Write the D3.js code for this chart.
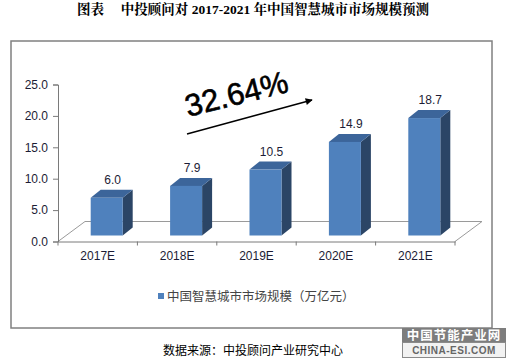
<!DOCTYPE html>
<html><head><meta charset="utf-8">
<script src="https://cdn.jsdelivr.net/npm/d3@7"></script>
<style>body{margin:0;background:#fff}svg{display:block}</style>
</head><body>
<svg id="c" width="506" height="360"></svg>
<script>
const categories = ["2017E","2018E","2019E","2020E","2021E"];
const values = [6.0, 7.9, 10.5, 14.9, 18.7];
const yTicks = [0, 5, 10, 15, 20, 25];
const seriesName = "中国智慧城市市场规模（万亿元）";
const growthLabel = "32.64%";
const titleText = "图表　 中投顾问对 2017-2021 年中国智慧城市市场规模预测";
const sourceText = "数据来源：中投顾问产业研究中心";

const svg = d3.select("#c");
const font = "Arial, 'Liberation Sans', 'Noto Sans CJK SC', sans-serif";
const labelColor = "#1c1c35";

// title
svg.append("text").attr("x", 253).attr("y", 14).attr("text-anchor", "middle")
  .attr("font-family", "'Liberation Serif', 'Noto Serif CJK SC', 'Noto Sans CJK SC', serif")
  .attr("font-weight", "bold").attr("font-size", 13.5).attr("fill", "#000").text(titleText);

// outer border
svg.append("rect").attr("x", 11).attr("y", 41).attr("width", 481).attr("height", 287)
  .attr("fill", "none").attr("stroke", "#808080").attr("stroke-width", 1.5);

const x0 = 58, x1 = 455, y0 = 241.5, yTop = 84.5;
const depthX = 27, depthY = -20;
const barDX = 10, barDY = -8;

const x = d3.scaleBand().domain(categories).range([x0, x1]).padding(0);
const y = d3.scaleLinear().domain([0, 25]).range([y0, yTop]);

// floor
const floor = svg.append("g").attr("fill", "none").attr("stroke", "#9a9a9a").attr("stroke-width", 1);
floor.append("path").attr("d", `M${x0},${y0}L${x0+depthX},${y0+depthY}L${x1+depthX},${y0+depthY}L${x1},${y0}`);

// y axis
const yAxis = d3.axisLeft(y).tickValues(yTicks).tickFormat(d3.format(".1f")).tickSizeOuter(0).tickSize(5).tickPadding(5);
const gy = svg.append("g").attr("transform", `translate(${x0},0)`).call(yAxis);
gy.select(".domain").attr("stroke", "#7a7a7a");
gy.selectAll(".tick line").attr("stroke", "#7a7a7a");
gy.selectAll("text").attr("font-family", font).attr("font-size", 12).attr("fill", labelColor);

// x axis
const xAxis = d3.axisBottom(x).tickSize(0).tickPadding(10);
const gx = svg.append("g").attr("transform", `translate(0,${y0})`).call(xAxis);
gx.select(".domain").attr("stroke", "#7a7a7a");
gx.selectAll("text").attr("font-family", font).attr("font-size", 12).attr("fill", labelColor);
const bounds = categories.map(c => x(c)).concat([x1]);
gx.selectAll(".sep").data(bounds).join("line").attr("class", "sep")
  .attr("x1", d => d).attr("x2", d => d).attr("y1", 0).attr("y2", 4).attr("stroke", "#7a7a7a");

// bars
const barW = 32, barShift = 9, barBase = 6;
const yb = v => y(v) - barBase;
const bars = svg.append("g");
categories.forEach((c, i) => {
  const v = values[i];
  const cx = x(c) + x.bandwidth() / 2 + barShift;
  const L = cx - barW / 2, R = cx + barW / 2;
  const T = yb(v), B = yb(0);
  // side
  bars.append("path").attr("d", `M${R},${T}L${R+barDX},${T+barDY}L${R+barDX},${B+barDY}L${R},${B}Z`)
    .attr("fill", "#2b4566");
  // top
  bars.append("path").attr("d", `M${L},${T}L${L+barDX},${T+barDY}L${R+barDX},${T+barDY}L${R},${T}Z`)
    .attr("fill", "#3c659a");
  // front
  bars.append("rect").attr("x", L).attr("y", T).attr("width", barW).attr("height", B - T)
    .attr("fill", "#4f81bd");
  bars.append("text").attr("x", cx + barDX / 2 + 1).attr("y", T + barDY - 6)
    .attr("text-anchor", "middle").attr("font-family", font).attr("font-size", 12)
    .attr("fill", labelColor).text(d3.format(".1f")(v));
});

// growth annotation
svg.append("defs").append("marker").attr("id", "ah").attr("viewBox", "0 0 10 10")
  .attr("refX", 9).attr("refY", 5).attr("markerWidth", 8).attr("markerHeight", 7)
  .attr("markerUnits", "userSpaceOnUse").attr("orient", "auto")
  .append("path").attr("d", "M0,0L10,5L0,10Z").attr("fill", "#000");
svg.append("line").attr("x1", 187).attr("y1", 134).attr("x2", 312).attr("y2", 100)
  .attr("stroke", "#000").attr("stroke-width", 1.5).attr("marker-end", "url(#ah)");
svg.append("text").attr("transform", "translate(188,117) rotate(-14)")
  .attr("font-family", font).attr("font-size", 31).attr("fill", "#000")
  .attr("stroke", "#000").attr("stroke-width", 0.6).text(growthLabel);

// legend
svg.append("rect").attr("x", 158).attr("y", 293).attr("width", 6).attr("height", 6).attr("fill", "#4f81bd");
svg.append("text").attr("x", 167).attr("y", 300.5).attr("font-family", "'Noto Sans CJK SC', sans-serif")
  .attr("font-size", 12.5).attr("fill", "#444").text(seriesName);

// source
svg.append("text").attr("x", 163).attr("y", 355).attr("font-family", "'Noto Sans CJK SC', sans-serif")
  .attr("font-size", 12).attr("fill", "#000").text(sourceText);

// watermark
const wm = svg.append("g");
wm.append("rect").attr("x", 402).attr("y", 328).attr("width", 104).attr("height", 14).attr("fill", "#7d7d7d");
wm.append("text").attr("x", 454).attr("y", 340).attr("text-anchor", "middle")
  .attr("font-family", "'Noto Sans CJK SC', sans-serif").attr("font-weight", "bold")
  .attr("font-size", 12.5).attr("fill", "#fff").attr("letter-spacing", 1).text("中国节能产业网");
wm.append("rect").attr("x", 402.5).attr("y", 342.5).attr("width", 103).attr("height", 15)
  .attr("fill", "#f2f2f2").attr("stroke", "#8a8a8a");
wm.append("text").attr("x", 454).attr("y", 354).attr("text-anchor", "middle")
  .attr("font-family", font).attr("font-weight", "bold")
  .attr("font-size", 10).attr("fill", "#666").attr("letter-spacing", 0.5).text("CHINA-ESI.COM");
</script>
</body></html>
